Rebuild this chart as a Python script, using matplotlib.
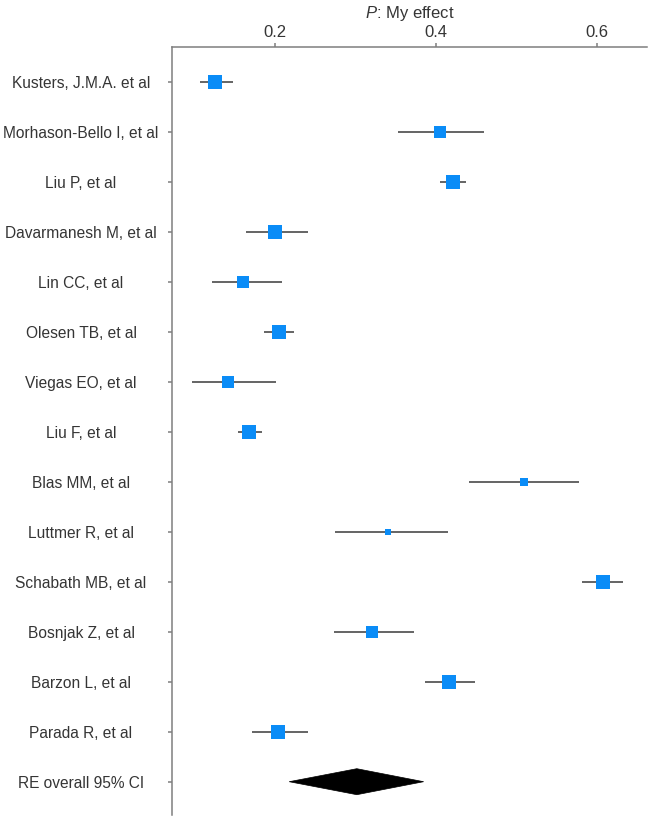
import matplotlib
matplotlib.use("Agg")
import matplotlib.pyplot as plt
from matplotlib.patches import Polygon
import numpy as np

plt.rcParams['font.family'] = ['Liberation Sans', 'DejaVu Sans']
plt.rcParams['mathtext.fontset'] = 'custom'
plt.rcParams['mathtext.it'] = 'Liberation Sans:italic'
plt.rcParams['mathtext.rm'] = 'Liberation Sans'

# ---- data ----
studies = ["Kusters, J.M.A. et al", "Morhason-Bello I, et al", "Liu P, et al",
           "Davarmanesh M, et al", "Lin CC, et al", "Olesen TB, et al",
           "Viegas EO, et al", "Liu F, et al", "Blas MM, et al",
           "Luttmer R, et al", "Schabath MB, et al", "Bosnjak Z, et al",
           "Barzon L, et al", "Parada R, et al"]
effect = [0.126, 0.405, 0.422, 0.200, 0.161, 0.205, 0.1415, 0.168, 0.510,
          0.341, 0.608, 0.321, 0.4165, 0.204]
ci_low = [0.107, 0.353, 0.405, 0.164, 0.122, 0.187, 0.097, 0.154, 0.441,
          0.275, 0.582, 0.274, 0.387, 0.172]
ci_high = [0.148, 0.460, 0.438, 0.241, 0.209, 0.224, 0.202, 0.184, 0.578,
           0.415, 0.633, 0.373, 0.449, 0.241]
weights = [9.1, 6.0, 9.1, 7.9, 7.5, 9.1, 6.4, 9.1, 2.7, 1.7, 8.2, 6.7, 8.2, 8.2]
overall_label = "RE overall 95% CI"
overall_effect = 0.302
overall_low = 0.218
overall_high = 0.385
xticks = [0.2, 0.4, 0.6]
xlabel = "$P$: My effect"

# ---- figure ----
W, H, DPI = 650, 823, 100
fig = plt.figure(figsize=(W / DPI, H / DPI), dpi=DPI)
ax = fig.add_axes([172 / W, 1 - 815 / H, (647 - 172) / W, (815 - 46.7) / H])

blue = "#0a8cf7"
line_col = "#4a4a4a"
text_col = "#353535"
spine_col = "#7f7f7f"

n = len(studies)
ypos = np.arange(n)
for i in range(n):
    ax.plot([ci_low[i], ci_high[i]], [ypos[i], ypos[i]], color=line_col,
            lw=1.2, solid_capstyle='butt', zorder=2)
    side_px = 14 * np.sqrt(weights[i] / 9.1)
    ax.plot(effect[i], ypos[i], marker='s', ms=side_px * 72 / DPI,
            color=blue, mew=0, zorder=3)

yo = n
hh = 0.26
diamond = Polygon([[overall_low, yo], [overall_effect, yo - hh],
                   [overall_high, yo], [overall_effect, yo + hh]],
                  closed=True, facecolor='black', edgecolor='black', lw=0.5)
ax.add_patch(diamond)

ax.set_xlim(0.0724, 0.6625)
ax.set_ylim(14.666, -0.7)

ax.set_yticks(list(ypos) + [yo])
ax.set_yticklabels(studies + [overall_label])
for lab in ax.get_yticklabels():
    lab.set_horizontalalignment('center')
ax.tick_params(axis='y', length=3, width=1.1, color=spine_col, pad=62.5,
               labelsize=11.2, labelcolor=text_col)

ax.xaxis.tick_top()
ax.xaxis.set_label_position('top')
ax.set_xticks(xticks)
ax.set_xticklabels([f"{t:.1f}" for t in xticks])
ax.tick_params(axis='x', length=3, width=1.1, color=spine_col, pad=2,
               labelsize=12, labelcolor=text_col)
ax.set_xlabel(xlabel, fontsize=12, color=text_col, labelpad=5)

for s in ['right', 'bottom']:
    ax.spines[s].set_visible(False)
for s in ['left', 'top']:
    ax.spines[s].set_color(spine_col)
    ax.spines[s].set_linewidth(1.1)

fig.savefig("out.png", dpi=DPI)
